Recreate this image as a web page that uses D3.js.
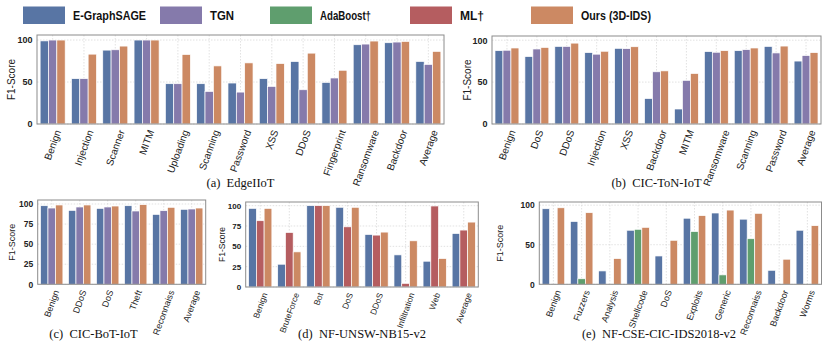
<!DOCTYPE html>
<html><head><meta charset="utf-8">
<script src="https://cdn.jsdelivr.net/npm/d3@7"></script>
<style>
body{margin:0;background:#fff;}
svg{display:block;}
</style></head>
<body>
<svg id="chart" width="822" height="343"></svg>
<script>
// ---------------- DATA ----------------
const seriesNames = ["E-GraphSAGE", "TGN", "AdaBoost†", "ML†", "Ours (3D-IDS)"];

const edgeCats = ["Benign","Injection","Scanner","MITM","Uploading","Scanning","Password","XSS","DDoS","Fingerprint","Ransomware","Backdoor","Average"];
const edgeGraphSAGE = [99, 54, 88, 100, 48, 48, 48.8, 54, 74.4, 49.6, 94.4, 96.8, 74.5];
const edgeTGN       = [100, 54, 88.4, 100, 48, 38.8, 38, 44.8, 40.8, 54.8, 95.2, 97.6, 71];
const edgeOurs      = [100, 83.2, 92.8, 100, 82.8, 69.2, 72.8, 72, 84.4, 64, 98.8, 98.4, 86.5];

const tonCats = ["Benign","DoS","DDoS","Injection","XSS","Backdoor","MITM","Ransomware","Scanning","Password","Average"];
const tonGraphSAGE = [87.5, 80.5, 92.6, 85.2, 90.3, 30.4, 17.9, 86.4, 87.5, 92.6, 75.1];
const tonTGN       = [88, 89.5, 92.6, 83.3, 89.9, 62.3, 52.1, 85.6, 88.7, 84.8, 81.7];
const tonOurs      = [90.7, 91.4, 96.5, 86.8, 92.2, 63.4, 60.3, 87.5, 90.7, 93, 85.2];

const botCats = ["Benign","DDoS","DoS","Theft","Reconnaiss","Average"];
const botGraphSAGE = [97.9, 92.1, 94.6, 97.9, 87.1, 93.4];
const botTGN       = [95, 96.3, 96.3, 91.3, 91.7, 93.8];
const botOurs      = [98.8, 98.8, 97.5, 99.2, 95.9, 95];

const unswCats = ["Benign","BruteForce","Bot","DoS","DDoS","Infiltration","Web","Average"];
const unswGraphSAGE = [96.7, 28, 100, 98, 64.6, 39.5, 31.7, 65.8];
const unswML        = [81.5, 67, 100, 74, 63.8, 4.5, 99.6, 70];
const unswOurs      = [96.7, 43.2, 100, 98, 67.5, 56.8, 35, 79.8];

const cseCats = ["Benign","Fuzzers","Analysis","Shellcode","DoS","Exploits","Generic","Reconnaiss","Backdoor","Worms"];
const cseGraphSAGE = [95.5, 79.4, 16.9, 68.3, 35.8, 83.5, 90.1, 82.3, 17.7, 68.3];
const cseAdaBoost  = [null, 7, null, 69.5, null, 66.7, 11.9, 57.6, null, null];
const cseOurs      = [96.7, 90.5, 32.5, 72, 55.6, 86.8, 93.8, 89.7, 31.7, 74.1];

const ticks100 = [0, 50, 100];
const ticks25 = [0, 25, 50, 75, 100];

// ---------------- STYLE ----------------
const colorOf = {
  "E-GraphSAGE": "#5875a4",
  "TGN": "#857aab",
  "AdaBoost†": "#5f9e6e",
  "ML†": "#b55d60",
  "Ours (3D-IDS)": "#cc8963"
};

const panels = [
  {cats: edgeCats, series: [["E-GraphSAGE", edgeGraphSAGE], ["TGN", edgeTGN], ["Ours (3D-IDS)", edgeOurs]],
   x0: 37, x1: 444, top: 35, bottom: 124, ymax: 106, ticks: ticks100,
   fs: 10, tfs: 9, yl: 11.5, caption: "(a)  EdgeIIoT", cx: 240.5, cy: 187},
  {cats: tonCats, series: [["E-GraphSAGE", tonGraphSAGE], ["TGN", tonTGN], ["Ours (3D-IDS)", tonOurs]],
   x0: 492, x1: 821, top: 36, bottom: 124, ymax: 105, ticks: ticks100,
   fs: 10, tfs: 9, yl: 467, caption: "(b)  CIC-ToN-IoT", cx: 656.5, cy: 187},
  {cats: botCats, series: [["E-GraphSAGE", botGraphSAGE], ["TGN", botTGN], ["Ours (3D-IDS)", botOurs]],
   x0: 37.7, x1: 205.7, top: 200, bottom: 284.3, ymax: 105, ticks: ticks25,
   fs: 9, tfs: 8.5, yl: 11.5, caption: "(c)  CIC-BoT-IoT", cx: 93.5, cy: 338},
  {cats: unswCats, series: [["E-GraphSAGE", unswGraphSAGE], ["ML†", unswML], ["Ours (3D-IDS)", unswOurs]],
   x0: 245.7, x1: 478.3, top: 202, bottom: 287, ymax: 104.5, ticks: ticks25,
   fs: 8.5, tfs: 8, yl: 221.7, caption: "(d)  NF-UNSW-NB15-v2", cx: 362, cy: 338},
  {cats: cseCats, series: [["E-GraphSAGE", cseGraphSAGE], ["AdaBoost†", cseAdaBoost], ["Ours (3D-IDS)", cseOurs]],
   x0: 539.3, x1: 821.5, top: 202, bottom: 284.3, ymax: 104, ticks: ticks100,
   fs: 9, tfs: 8.5, yl: 500, caption: "(e)  NF-CSE-CIC-IDS2018-v2", cx: 659, cy: 338}
];

const svg = d3.select("#chart");
const SANS = "'Liberation Sans', Arial, Helvetica, sans-serif";
const NARROW = "'Liberation Sans Narrow', 'Arial Narrow', 'Liberation Sans', Arial, sans-serif";
const SERIF = "'Liberation Serif', 'Times New Roman', serif";

// ---------------- LEGEND ----------------
const legendX = [23, 160, 270, 410, 531];
const legendW = [73, 24, 51, 24, 70];
const lg = svg.append("g");
seriesNames.forEach((name, i) => {
  lg.append("rect").attr("x", legendX[i]).attr("y", 6.5).attr("width", 42).attr("height", 17.5)
    .attr("fill", colorOf[name]);
  lg.append("text").attr("x", legendX[i] + 50).attr("y", 19.5)
    .attr("font-family", NARROW).attr("font-weight", "bold").attr("font-size", 13.5)
    .attr("textLength", legendW[i]).attr("lengthAdjust", "spacingAndGlyphs")
    .attr("fill", "#111").text(name);
});

// ---------------- PANELS ----------------
const ROT = 70;
const theta = ROT * Math.PI / 180;
panels.forEach(p => {
  const g = svg.append("g");
  const x = d3.scaleBand().domain(p.cats).range([p.x0, p.x1]).paddingInner(0.2).paddingOuter(0.1);
  const names = p.series.map(s => s[0]);
  const xs = d3.scaleBand().domain(names).range([0, x.bandwidth()]);
  const y = d3.scaleLinear().domain([0, p.ymax]).range([p.bottom, p.top]);

  // grid
  g.append("g").selectAll("line.h").data(p.ticks).join("line")
    .attr("x1", p.x0).attr("x2", p.x1).attr("y1", d => y(d)).attr("y2", d => y(d))
    .attr("stroke", "#d6d6d6").attr("stroke-width", 0.7).attr("stroke-dasharray", "1.5,1.5");
  g.append("g").selectAll("line.v").data(p.cats).join("line")
    .attr("x1", d => x(d) + x.bandwidth() / 2).attr("x2", d => x(d) + x.bandwidth() / 2)
    .attr("y1", p.top).attr("y2", p.bottom)
    .attr("stroke", "#d6d6d6").attr("stroke-width", 0.7).attr("stroke-dasharray", "1.5,1.5");

  // bars
  p.series.forEach(([name, vals]) => {
    g.append("g").selectAll("rect").data(p.cats.map((c, i) => ({c, v: vals[i]})).filter(d => d.v != null))
      .join("rect")
      .attr("x", d => x(d.c) + xs(name))
      .attr("width", xs.bandwidth())
      .attr("y", d => y(d.v))
      .attr("height", d => y(0) - y(d.v))
      .attr("fill", colorOf[name])
      .attr("stroke", "#fff").attr("stroke-width", 0.7);
  });

  // frame
  g.append("rect").attr("x", p.x0).attr("y", p.top).attr("width", p.x1 - p.x0).attr("height", p.bottom - p.top)
    .attr("fill", "none").attr("stroke", "#8c8c8c").attr("stroke-width", 1);

  // y axis
  const ya = d3.axisLeft(y).tickValues(p.ticks).tickSize(0).tickPadding(4.5);
  const yg = g.append("g").attr("transform", `translate(${p.x0},0)`).call(ya);
  yg.select(".domain").remove();
  yg.selectAll("text").attr("font-family", SANS).attr("font-size", p.tfs).attr("font-weight", "bold").attr("fill", "#222");

  // y label
  g.append("text").attr("transform", `translate(${p.yl},${(p.top + p.bottom) / 2}) rotate(-90)`)
    .attr("text-anchor", "middle").attr("dominant-baseline", "central")
    .attr("font-family", SANS).attr("font-size", p.fs).attr("fill", "#222").text("F1-Score");

  // x labels (rotated, bbox centered on tick)
  const xa = d3.axisBottom(x).tickSize(0).tickPadding(0);
  const xg = g.append("g").attr("transform", `translate(0,${p.bottom})`).call(xa);
  xg.select(".domain").remove();
  xg.selectAll(".tick text").each(function(d) {
    const t = d3.select(this);
    t.attr("font-family", SANS).attr("font-size", p.fs).attr("fill", "#222")
      .attr("text-anchor", "middle").attr("dominant-baseline", "central").attr("dy", null).attr("y", null);
    const L = this.getComputedTextLength();
    const h = p.fs * 0.75;
    const H = L * Math.sin(theta) + h * Math.cos(theta);
    t.attr("transform", `translate(0,${5 + H / 2}) rotate(-${ROT})`);
  });

  // caption
  g.append("text").attr("x", p.cx).attr("y", p.cy).attr("text-anchor", "middle")
    .attr("font-family", SERIF).attr("font-size", 12.5).attr("fill", "#111")
    .attr("xml:space", "preserve").style("white-space", "pre").text(p.caption);
});
</script>
</body></html>
